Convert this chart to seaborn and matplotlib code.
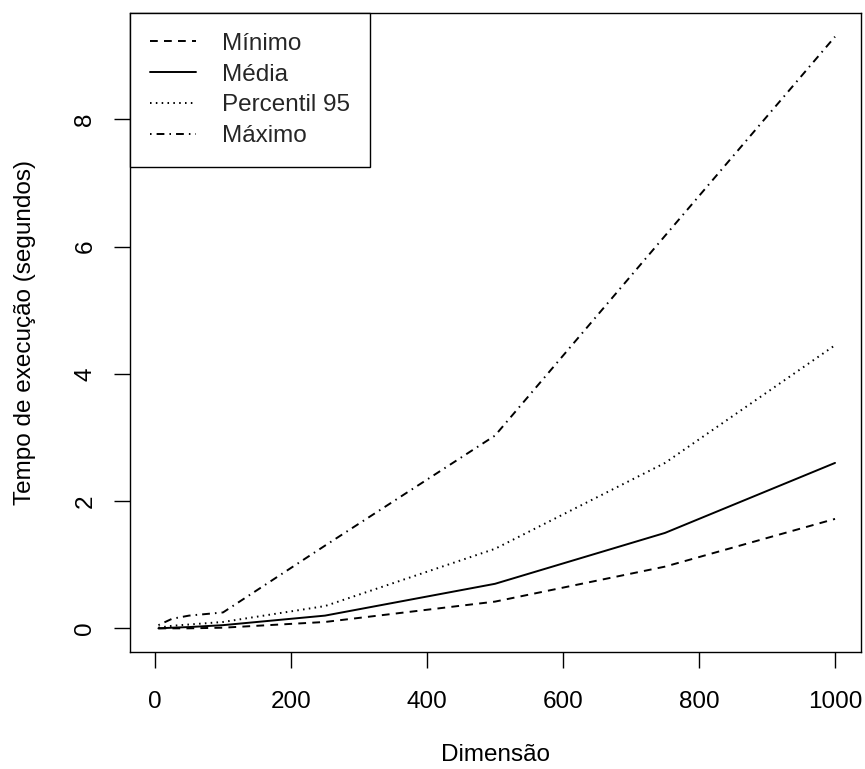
import matplotlib
matplotlib.use("Agg")
import matplotlib.pyplot as plt
import seaborn as sns
import pandas as pd

dimensao = [5, 25, 50, 100, 250, 500, 750, 1000]
minimo = [0.0, 0.0, 0.0, 0.01, 0.10, 0.42, 0.97, 1.72]
media = [0.0, 0.01, 0.02, 0.05, 0.20, 0.70, 1.50, 2.60]
percentil95 = [0.01, 0.04, 0.06, 0.10, 0.35, 1.25, 2.60, 4.45]
maximo = [0.05, 0.15, 0.20, 0.25, 1.30, 3.03, 6.17, 9.30]
series_names = ["Mínimo", "Média", "Percentil 95", "Máximo"]
x_ticks = [0, 200, 400, 600, 800, 1000]
y_ticks = [0, 2, 4, 6, 8]

sns.set_theme(style="ticks")
plt.rcParams['font.family'] = ['Liberation Sans', 'DejaVu Sans']

FS = 17.5
fig = plt.figure(figsize=(8.65, 7.69), dpi=100)
W, H = 865, 769
ax = fig.add_axes([130 / W, 1 - 652 / H, (861 - 130) / W, (652 - 13) / H])

styles = {
    "Mínimo": (0, (4, 3.2)),
    "Média": "-",
    "Percentil 95": (0, (0.8, 2.2)),
    "Máximo": (0, (0.8, 2.6, 4, 2.6)),
}
values = [minimo, media, percentil95, maximo]
for name, vals in zip(series_names, values):
    df = pd.DataFrame({"x": dimensao, "y": vals})
    sns.lineplot(data=df, x="x", y="y", ax=ax, color="black", linewidth=1.4,
                 linestyle=styles[name], label=name, sort=False)

ax.set_xlim(-36.8, 1038.2)
ymax = max(maximo)
ax.set_ylim(-0.04 * ymax, ymax * 1.04)
ax.set_xticks(x_ticks)
ax.set_yticks(y_ticks)
ax.set_xticklabels([str(t) for t in x_ticks], fontsize=FS)
ax.set_yticklabels([str(t) for t in y_ticks], fontsize=FS, rotation=90, va="center")
ax.tick_params(axis="both", direction="out", length=11.2, width=1, color="black",
               labelcolor="black")
ax.tick_params(axis="x", pad=17)
ax.tick_params(axis="y", pad=13)
for sp in ax.spines.values():
    sp.set_visible(True)
    sp.set_color("black")
    sp.set_linewidth(1)
ax.set_xlabel("Dimensão", fontsize=FS, color="black", va="center")
ax.set_ylabel("Tempo de execução (segundos)", fontsize=FS, color="black", va="center")
ax.xaxis.set_label_coords(0.5, (652 - 755) / (652 - 13))
ax.yaxis.set_label_coords((25 - 130) / (861 - 130), 0.5)
ax.grid(False)

leg = ax.legend(loc="upper left", borderaxespad=0, frameon=True, fancybox=False,
                edgecolor="black", fontsize=FS, handlelength=1.9, handletextpad=1.07,
                labelspacing=0.36, borderpad=0.82)
leg.get_frame().set_linewidth(1)
leg.get_frame().set_alpha(1)

fig.savefig("out.png", dpi=100)
